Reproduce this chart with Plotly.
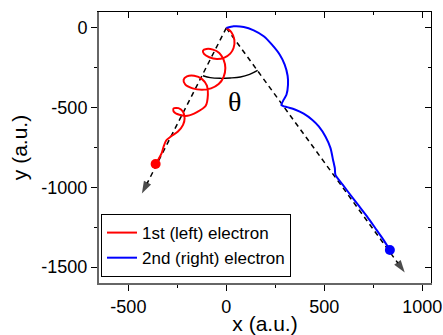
import plotly.graph_objects as go

# ---- data ----
red_x = [0, 26, 41, 37, 20, -10, -48, -87, -114, -119, -102, -68, -36, -14, -5, -14, -39, -78, -124, -172,
         -210, -218, -201, -164, -124, -99, -94, -106, -150, -198, -240, -269, -269, -244, -221, -213, -221,
         -247, -283, -307, -320, -330, -346, -361]
red_y = [0, -27, -73, -126, -161, -186, -195, -184, -163, -142, -132, -136, -157, -199, -251, -308, -352,
         -379, -388, -379, -354, -325, -304, -300, -321, -362, -419, -490, -528, -551, -545, -524, -505,
         -503, -526, -566, -608, -650, -681, -706, -744, -786, -823, -853]

blue_x = [0, 37, 89, 140, 191, 233, 273, 298, 313, 315, 307, 293, 281, 310, 353, 395, 438, 472, 506, 532,
          545, 554, 557, 595, 634, 676, 719, 760, 800, 835]
blue_y = [0, 10, 6, -15, -52, -105, -168, -230, -300, -356, -419, -450, -484, -497, -513, -538, -576, -618,
          -681, -754, -828, -880, -922, -985, -1048, -1115, -1184, -1255, -1325, -1393]

left_dir_x = [0, -431]
left_dir_y = [0, -1039]
right_dir_x = [0, 911]
right_dir_y = [0, -1534]

angle_x = [-119, -82, -31, 20, 72, 119, 160]
angle_y = [-300, -312, -316, -314, -308, -291, -266]

end_red = ([-361], [-853])
end_blue = ([835], [-1393])

theta_pos = (43, -461)

x_range = [-650, 1045]
y_range = [-1600, 100]
x_ticks = [-500, 0, 500, 1000]
x_minor = [-250, 250, 750]
y_ticks = [0, -500, -1000, -1500]
y_minor = [-250, -750, -1250]

FONT = "Arial, Liberation Sans, sans-serif"

fig = go.Figure()

# dashed direction lines with arrow heads
for dx, dy in [(left_dir_x, left_dir_y), (right_dir_x, right_dir_y)]:
    fig.add_trace(go.Scatter(
        x=dx, y=dy, mode="lines+markers",
        line=dict(color="black", width=1.5, dash="5px,4px"),
        marker=dict(symbol="arrow", size=[0, 13], color="black", angleref="previous",
                    line=dict(width=0)),
        showlegend=False, hoverinfo="skip"))

# angle arc
fig.add_trace(go.Scatter(x=angle_x, y=angle_y, mode="lines",
                         line=dict(color="black", width=1.4, shape="spline"),
                         showlegend=False, hoverinfo="skip"))

fig.add_trace(go.Scatter(x=red_x, y=red_y, mode="lines", name="1st (left) electron",
                         line=dict(color="#ff0000", width=2, shape="spline", smoothing=0.8)))
fig.add_trace(go.Scatter(x=blue_x, y=blue_y, mode="lines", name="2nd (right) electron",
                         line=dict(color="#0000ff", width=2, shape="spline", smoothing=0.6)))

fig.add_trace(go.Scatter(x=end_red[0], y=end_red[1], mode="markers",
                         marker=dict(color="#ff0000", size=10), showlegend=False))
fig.add_trace(go.Scatter(x=end_blue[0], y=end_blue[1], mode="markers",
                         marker=dict(color="#0000ff", size=10), showlegend=False))

# invisible trace for the mirrored (top/right) axes
fig.add_trace(go.Scatter(x=[0], y=[0], xaxis="x2", yaxis="y2", mode="markers",
                         marker=dict(opacity=0), showlegend=False, hoverinfo="skip"))

fig.add_annotation(x=theta_pos[0], y=theta_pos[1], text="θ", showarrow=False,
                   font=dict(family="Liberation Serif, Times New Roman, serif", size=28, color="black"))

fig.update_layout(
    width=443, height=335,
    margin=dict(l=99, r=12, t=12, b=52, autoexpand=False),
    paper_bgcolor="white", plot_bgcolor="white",
    font=dict(family=FONT, color="black", size=18),
    xaxis=dict(range=x_range, tickvals=x_ticks, ticktext=[str(v) for v in x_ticks],
               ticks="outside", ticklen=6, tickwidth=1, tickcolor="black",
               minor=dict(tickvals=x_minor, ticks="outside", ticklen=3, tickcolor="black"),
               showline=True, linecolor="#666666", linewidth=2, showgrid=False, zeroline=False,
               title=dict(text="x (a.u.)", font=dict(size=21), standoff=4),
               tickfont=dict(size=18)),
    yaxis=dict(range=y_range, tickvals=y_ticks, ticktext=[str(v) for v in y_ticks],
               ticks="outside", ticklen=6, tickwidth=1, tickcolor="black",
               minor=dict(tickvals=y_minor, ticks="outside", ticklen=3, tickcolor="black"),
               showline=True, linecolor="#666666", linewidth=2, showgrid=False, zeroline=False,
               title=dict(text="y (a.u.)", font=dict(size=21), standoff=8),
               tickfont=dict(size=18)),
    xaxis2=dict(range=x_range, overlaying="x", side="top", anchor="y",
                tickvals=x_ticks, showticklabels=False, ticks="inside", ticklen=6, tickcolor="black",
                minor=dict(tickvals=x_minor, ticks="inside", ticklen=3, tickcolor="black"),
                showline=True, linecolor="black", linewidth=1, showgrid=False, zeroline=False),
    yaxis2=dict(range=y_range, overlaying="y", side="right", anchor="x",
                tickvals=y_ticks, showticklabels=False, ticks="inside", ticklen=6, tickcolor="black",
                minor=dict(tickvals=y_minor, ticks="inside", ticklen=3, tickcolor="black"),
                showline=True, linecolor="black", linewidth=1, showgrid=False, zeroline=False),
    legend=dict(x=0.006, y=0.022, xanchor="left", yanchor="bottom",
                bgcolor="white", bordercolor="black", borderwidth=1,
                font=dict(size=17), tracegroupgap=0),
    showlegend=True,
)

fig.write_html("out.html", config={"displayModeBar": False},
               post_script="document.body.style.margin='0';")
